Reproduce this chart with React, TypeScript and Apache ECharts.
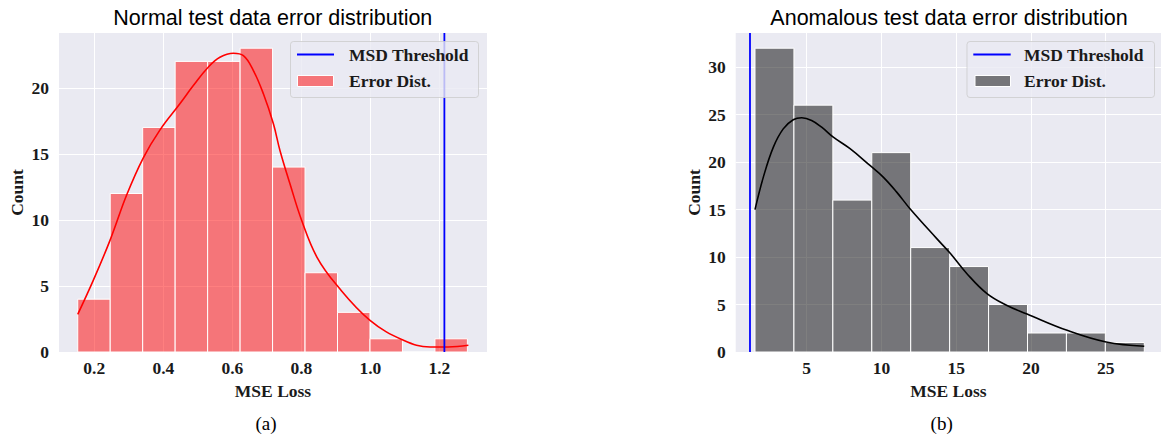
import React, { useEffect, useRef } from "react";
import * as echarts from "echarts";

// ---------- Data: normal test data ----------
const normalBinEdges = [0.152, 0.2461, 0.3402, 0.4343, 0.5284, 0.6225, 0.7166, 0.8107, 0.9048, 0.9989, 1.093, 1.1871, 1.2812];
const normalCounts = [4, 12, 17, 22, 22, 23, 14, 6, 3, 1, 0, 1];
const normalKdeX = [0.152, 0.197, 0.2455, 0.294, 0.342, 0.39, 0.448, 0.487, 0.53, 0.564, 0.603, 0.632, 0.661, 0.69, 0.719, 0.738, 0.767, 0.801, 0.845, 0.903, 0.999, 1.096, 1.173, 1.225, 1.284];
const normalKdeY = [2.85, 5.42, 8.45, 11.9, 14.7, 16.8, 18.79, 20.17, 21.56, 22.31, 22.62, 22.44, 21.31, 19.55, 17.28, 15.26, 12.74, 9.96, 7.19, 5.05, 2.4, 0.885, 0.38, 0.38, 0.51];
const normalThreshold = 1.2145;
const normalXTicks = [0.2, 0.4, 0.6, 0.8, 1.0, 1.2];
const normalYTicks = [0, 5, 10, 15, 20];

// ---------- Data: anomalous test data ----------
const anomBinEdges = [1.542, 4.146, 6.75, 9.354, 11.958, 14.562, 17.166, 19.77, 22.374, 24.978, 27.582];
const anomCounts = [32, 26, 16, 21, 11, 9, 5, 2, 2, 1];
const anomKdeX = [1.542, 2.1, 2.77, 3.43, 4.1, 4.67, 5.33, 6.0, 6.78, 7.9, 9.23, 10.12, 11.02, 11.91, 13.7, 14.6, 15.72, 17.06, 18.4, 19.74, 22.42, 25.03, 27.58];
const anomKdeY = [15.0, 18.42, 21.58, 23.5, 24.46, 24.67, 24.39, 23.68, 22.63, 21.41, 19.65, 18.42, 16.84, 15.09, 11.94, 10.4, 8.25, 6.15, 4.9, 4.0, 2.28, 1.05, 0.6];
const anomThreshold = 1.207;
const anomXTicks = [5, 10, 15, 20, 25];
const anomYTicks = [0, 5, 10, 15, 20, 25, 30];

const titles = ["Normal test data error distribution", "Anomalous test data error distribution"];
const captions = ["(a)", "(b)"];
const legendNames = ["MSD Threshold", "Error Dist."];

const SERIF = "'Liberation Serif', 'Times New Roman', serif";
const SANS = "'Liberation Sans', Arial, sans-serif";
const TXT = "#1a1a1a";

function histData(edges: number[], counts: number[]) {
  return counts.map((c, i) => [edges[i], edges[i + 1], c]);
}
function zip(xs: number[], ys: number[]) {
  return xs.map((x, i) => [x, ys[i]]);
}

export default function App() {
  const ref = useRef<HTMLDivElement>(null);
  useEffect(() => {
    if (!ref.current) return;
    const chart = echarts.init(ref.current, undefined, { renderer: "svg" });

    const grids = [
      { left: 59, top: 33, width: 428, height: 319 },
      { left: 735.7, top: 33, width: 425.3, height: 319 },
    ];
    const xRanges = [
      [0.0977, 1.338],
      [0.251, 28.7],
    ];
    const yMax = [24.15, 33.6];
    const xTicks = [normalXTicks, anomXTicks];
    const yTicks = [normalYTicks, anomYTicks];
    const fills = ["rgba(255,0,0,0.5)", "rgba(0,0,0,0.5)"];
    const kdeColors = ["#ff0000", "#000000"];

    const mkHist = (gi: number, edges: number[], counts: number[]) => ({
      type: "custom",
      name: legendNames[1],
      xAxisIndex: gi,
      yAxisIndex: gi,
      z: 2,
      encode: { x: [0, 1], y: 2 },
      data: histData(edges, counts),
      renderItem: (params: any, api: any) => {
        const p0 = api.coord([api.value(0), api.value(2)]);
        const p1 = api.coord([api.value(1), 0]);
        return {
          type: "rect",
          shape: { x: p0[0], y: p0[1], width: p1[0] - p0[0], height: p1[1] - p0[1] },
          style: { fill: fills[gi], stroke: "#ffffff", lineWidth: 1 },
        };
      },
    });

    const mkKde = (gi: number, xs: number[], ys: number[]) => ({
      type: "line",
      xAxisIndex: gi,
      yAxisIndex: gi,
      z: 3,
      data: zip(xs, ys),
      smooth: 0.4,
      symbol: "none",
      lineStyle: { color: kdeColors[gi], width: 1.6 },
    });

    const mkThr = (gi: number, x: number) => ({
      type: "line",
      name: legendNames[0],
      xAxisIndex: gi,
      yAxisIndex: gi,
      z: 4,
      data: [
        [x, 0],
        [x, yMax[gi]],
      ],
      symbol: "none",
      lineStyle: { color: "#0000ff", width: 1.8 },
    });

    const legendX = [
      { box: 290.5, w: 188, line: [297, 334], patch: 297.5, pw: 36, text: 349 },
      { box: 967, w: 187.5, line: [973.3, 1010.7], patch: 975, pw: 35.5, text: 1024 },
    ];
    const graphic: any[] = [];
    [0, 1].forEach((gi) => {
      const L = legendX[gi];
      graphic.push({
        type: "text",
        x: gi === 0 ? 272.8 : 949,
        y: 17.5,
        z: 20,
        style: { text: titles[gi], font: `21.5px ${SANS}`, fill: "#000", align: "center", verticalAlign: "middle" },
      });
      graphic.push({
        type: "text",
        x: gi === 0 ? 266 : 941.7,
        y: 423,
        z: 20,
        style: { text: captions[gi], font: `19px ${SERIF}`, fill: "#000", align: "center", verticalAlign: "middle" },
      });
      graphic.push({
        type: "rect",
        z: 10,
        shape: { x: L.box, y: 41.5, width: L.w, height: 56, r: 3 },
        style: { fill: "rgba(234,234,242,0.8)", stroke: "rgba(204,204,204,0.8)", lineWidth: 1 },
      });
      graphic.push({
        type: "line",
        z: 11,
        shape: { x1: L.line[0], y1: 54.5, x2: L.line[1], y2: 54.5 },
        style: { stroke: "#0000ff", lineWidth: 1.8 },
      });
      graphic.push({
        type: "rect",
        z: 11,
        shape: { x: L.patch, y: 75.5, width: L.pw, height: 11 },
        style: { fill: fills[gi], stroke: "#ffffff", lineWidth: 1 },
      });
      graphic.push({
        type: "text",
        x: L.text,
        y: 55,
        z: 11,
        style: { text: legendNames[0], font: `bold 17.5px ${SERIF}`, fill: TXT, align: "left", verticalAlign: "middle" },
      });
      graphic.push({
        type: "text",
        x: L.text,
        y: 81,
        z: 11,
        style: { text: legendNames[1], font: `bold 17.5px ${SERIF}`, fill: TXT, align: "left", verticalAlign: "middle" },
      });
    });

    const labelStyle = { fontFamily: SERIF, fontWeight: "bold" as const, fontSize: 17.5, color: TXT };

    chart.setOption({
      animation: false,
      backgroundColor: "#ffffff",
      grid: grids.map((g) => ({ ...g, show: true, backgroundColor: "#EAEAF2", borderWidth: 0 })),
      xAxis: [0, 1].map((gi) => ({
        type: "value",
        gridIndex: gi,
        min: xRanges[gi][0],
        max: xRanges[gi][1],
        name: "MSE Loss",
        nameLocation: "middle",
        nameGap: 26,
        nameTextStyle: { ...labelStyle, verticalAlign: "top" },
        axisLine: { show: false },
        axisTick: { show: false, customValues: xTicks[gi] },
        axisLabel: {
          ...labelStyle,
          margin: 7,
          customValues: xTicks[gi],
          formatter: (v: number) => (gi === 0 ? v.toFixed(1) : String(v)),
        },
        splitLine: { show: true, lineStyle: { color: "#ffffff", width: 1 } },
      })),
      yAxis: [0, 1].map((gi) => ({
        type: "value",
        gridIndex: gi,
        min: 0,
        max: yMax[gi],
        name: "Count",
        nameLocation: "middle",
        nameGap: 33,
        nameTextStyle: labelStyle,
        axisLine: { show: false },
        axisTick: { show: false, customValues: yTicks[gi] },
        axisLabel: { ...labelStyle, margin: 10, customValues: yTicks[gi] },
        splitLine: { show: true, lineStyle: { color: "#ffffff", width: 1 } },
      })),
      series: [
        mkHist(0, normalBinEdges, normalCounts),
        mkKde(0, normalKdeX, normalKdeY),
        mkThr(0, normalThreshold),
        mkHist(1, anomBinEdges, anomCounts),
        mkKde(1, anomKdeX, anomKdeY),
        mkThr(1, anomThreshold),
      ],
      graphic,
    });
    return () => chart.dispose();
  }, []);
  return <div ref={ref} style={{ position: "absolute", left: 0, top: 0, width: 1161, height: 440 }} />;
}
